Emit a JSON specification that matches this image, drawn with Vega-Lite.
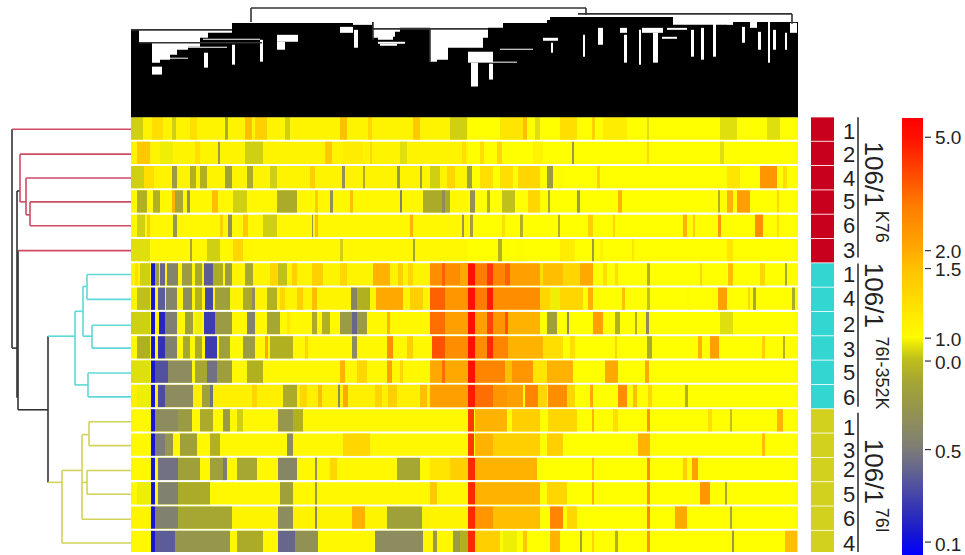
{"$schema":"https://vega.github.io/schema/vega-lite/v6.json","width":965,"height":555,"padding":0,"autosize":{"type":"fit","contains":"padding"},"background":"white","config":{"axis":{"disable":true},"view":{"stroke":null}},
"datasets":{
"heat":[
{"r":0,"a":131,"b":468,"v":52},{"r":1,"a":131,"b":468,"v":52},{"r":2,"a":131,"b":468,"v":52},{"r":3,"a":131,"b":468,"v":51},{"r":4,"a":131,"b":468,"v":51},{"r":5,"a":131,"b":468,"v":51},{"r":6,"a":131,"b":468,"v":52},{"r":7,"a":131,"b":468,"v":52},{"r":8,"a":131,"b":468,"v":51},{"r":9,"a":131,"b":468,"v":51},{"r":10,"a":131,"b":468,"v":51},{"r":11,"a":131,"b":468,"v":53},{"r":12,"a":131,"b":468,"v":51},{"r":13,"a":131,"b":468,"v":51},{"r":14,"a":131,"b":468,"v":51},{"r":15,"a":131,"b":468,"v":51},{"r":16,"a":131,"b":468,"v":52},{"r":17,"a":131,"b":468,"v":51},
{"r":0,"a":468,"b":798,"v":49},{"r":1,"a":468,"b":798,"v":49},{"r":2,"a":468,"b":798,"v":49},{"r":3,"a":468,"b":798,"v":49},{"r":4,"a":468,"b":798,"v":49},{"r":5,"a":468,"b":798,"v":49},{"r":6,"a":468,"b":798,"v":49},{"r":7,"a":468,"b":798,"v":49},{"r":8,"a":468,"b":798,"v":49},{"r":9,"a":468,"b":798,"v":49},{"r":10,"a":468,"b":798,"v":49},{"r":11,"a":468,"b":798,"v":49},{"r":12,"a":468,"b":798,"v":49},{"r":13,"a":468,"b":798,"v":49},{"r":14,"a":468,"b":798,"v":49},{"r":15,"a":468,"b":798,"v":49},{"r":16,"a":468,"b":798,"v":49},{"r":17,"a":468,"b":798,"v":49},
{"r":0,"a":131,"b":143,"v":46},{"r":0,"a":152,"b":163,"v":58},{"r":0,"a":172,"b":176,"v":46},{"r":0,"a":190,"b":197,"v":58},{"r":0,"a":225,"b":228,"v":42},{"r":0,"a":245,"b":252,"v":66},{"r":0,"a":255,"b":267,"v":62},{"r":0,"a":285,"b":290,"v":46},{"r":0,"a":340,"b":347,"v":66},{"r":0,"a":368,"b":372,"v":60},{"r":0,"a":413,"b":420,"v":64},{"r":0,"a":450,"b":467,"v":46},{"r":0,"a":500,"b":523,"v":56},{"r":0,"a":523,"b":527,"v":66},{"r":0,"a":535,"b":540,"v":47},{"r":0,"a":560,"b":577,"v":58},{"r":0,"a":592,"b":595,"v":62},{"r":0,"a":603,"b":627,"v":54},{"r":0,"a":647,"b":649,"v":47},{"r":0,"a":720,"b":737,"v":47},{"r":0,"a":767,"b":780,"v":47},
{"r":1,"a":137,"b":150,"v":64},{"r":1,"a":160,"b":173,"v":48},{"r":1,"a":195,"b":200,"v":58},{"r":1,"a":218,"b":220,"v":36},{"r":1,"a":245,"b":263,"v":46},{"r":1,"a":267,"b":278,"v":52},{"r":1,"a":325,"b":332,"v":64},{"r":1,"a":343,"b":363,"v":54},{"r":1,"a":370,"b":372,"v":60},{"r":1,"a":400,"b":407,"v":47},{"r":1,"a":462,"b":466,"v":58},{"r":1,"a":480,"b":484,"v":58},{"r":1,"a":497,"b":502,"v":60},{"r":1,"a":533,"b":543,"v":52},{"r":1,"a":572,"b":574,"v":36},{"r":1,"a":647,"b":649,"v":60},{"r":1,"a":720,"b":724,"v":47},
{"r":2,"a":131,"b":144,"v":46},{"r":2,"a":144,"b":154,"v":58},{"r":2,"a":172,"b":177,"v":36},{"r":2,"a":190,"b":196,"v":44},{"r":2,"a":200,"b":207,"v":44},{"r":2,"a":225,"b":232,"v":38},{"r":2,"a":247,"b":253,"v":42},{"r":2,"a":270,"b":277,"v":46},{"r":2,"a":310,"b":315,"v":62},{"r":2,"a":342,"b":345,"v":32},{"r":2,"a":363,"b":365,"v":42},{"r":2,"a":397,"b":400,"v":34},{"r":2,"a":420,"b":422,"v":36},{"r":2,"a":430,"b":440,"v":46},{"r":2,"a":447,"b":455,"v":60},{"r":2,"a":467,"b":472,"v":38},{"r":2,"a":480,"b":493,"v":58},{"r":2,"a":500,"b":513,"v":58},{"r":2,"a":518,"b":540,"v":60},{"r":2,"a":547,"b":553,"v":36},{"r":2,"a":558,"b":563,"v":50},{"r":2,"a":597,"b":600,"v":62},{"r":2,"a":727,"b":740,"v":56},{"r":2,"a":760,"b":777,"v":74},{"r":2,"a":783,"b":787,"v":58},
{"r":3,"a":137,"b":147,"v":44},{"r":3,"a":153,"b":160,"v":44},{"r":3,"a":172,"b":175,"v":68},{"r":3,"a":175,"b":183,"v":40},{"r":3,"a":187,"b":190,"v":32},{"r":3,"a":212,"b":218,"v":66},{"r":3,"a":233,"b":247,"v":46},{"r":3,"a":277,"b":297,"v":42},{"r":3,"a":315,"b":318,"v":64},{"r":3,"a":330,"b":333,"v":32},{"r":3,"a":350,"b":353,"v":66},{"r":3,"a":400,"b":402,"v":26},{"r":3,"a":423,"b":450,"v":42},{"r":3,"a":442,"b":445,"v":30},{"r":3,"a":470,"b":475,"v":32},{"r":3,"a":487,"b":490,"v":44},{"r":3,"a":502,"b":515,"v":45},{"r":3,"a":528,"b":540,"v":60},{"r":3,"a":548,"b":550,"v":40},{"r":3,"a":577,"b":580,"v":36},{"r":3,"a":618,"b":622,"v":68},{"r":3,"a":718,"b":720,"v":44},{"r":3,"a":727,"b":733,"v":68},{"r":3,"a":737,"b":750,"v":72},{"r":3,"a":777,"b":779,"v":60},
{"r":4,"a":137,"b":145,"v":46},{"r":4,"a":147,"b":150,"v":62},{"r":4,"a":173,"b":177,"v":34},{"r":4,"a":220,"b":223,"v":62},{"r":4,"a":228,"b":232,"v":32},{"r":4,"a":243,"b":248,"v":64},{"r":4,"a":263,"b":277,"v":46},{"r":4,"a":312,"b":313,"v":34},{"r":4,"a":315,"b":318,"v":66},{"r":4,"a":410,"b":413,"v":68},{"r":4,"a":462,"b":464,"v":34},{"r":4,"a":470,"b":473,"v":38},{"r":4,"a":502,"b":505,"v":58},{"r":4,"a":520,"b":523,"v":44},{"r":4,"a":558,"b":560,"v":44},{"r":4,"a":588,"b":593,"v":62},{"r":4,"a":613,"b":615,"v":60},{"r":4,"a":683,"b":687,"v":68},{"r":4,"a":693,"b":695,"v":62},{"r":4,"a":718,"b":721,"v":74},{"r":4,"a":755,"b":763,"v":76},{"r":4,"a":777,"b":779,"v":58},
{"r":5,"a":131,"b":150,"v":47},{"r":5,"a":190,"b":192,"v":40},{"r":5,"a":207,"b":220,"v":46},{"r":5,"a":233,"b":243,"v":60},{"r":5,"a":340,"b":343,"v":46},{"r":5,"a":413,"b":415,"v":38},{"r":5,"a":498,"b":502,"v":44},{"r":5,"a":515,"b":525,"v":50},{"r":5,"a":560,"b":575,"v":54},{"r":5,"a":592,"b":594,"v":36},{"r":5,"a":600,"b":603,"v":52},{"r":5,"a":632,"b":634,"v":56},{"r":5,"a":727,"b":733,"v":56},
{"r":6,"a":135,"b":138,"v":58},{"r":6,"a":140,"b":150,"v":46},{"r":6,"a":151,"b":155,"v":5},{"r":6,"a":155,"b":159,"v":38},{"r":6,"a":160,"b":165,"v":20},{"r":6,"a":167,"b":178,"v":27},{"r":6,"a":182,"b":192,"v":36},{"r":6,"a":195,"b":202,"v":40},{"r":6,"a":204,"b":213,"v":18},{"r":6,"a":213,"b":223,"v":43},{"r":6,"a":225,"b":232,"v":35},{"r":6,"a":245,"b":253,"v":40},{"r":6,"a":270,"b":278,"v":60},{"r":6,"a":278,"b":287,"v":45},{"r":6,"a":292,"b":297,"v":62},{"r":6,"a":312,"b":323,"v":62},{"r":6,"a":340,"b":347,"v":60},{"r":6,"a":373,"b":390,"v":68},{"r":6,"a":398,"b":403,"v":62},{"r":6,"a":408,"b":413,"v":60},{"r":6,"a":430,"b":468,"v":76},{"r":6,"a":442,"b":445,"v":84},{"r":6,"a":460,"b":468,"v":70},{"r":6,"a":468,"b":475,"v":96},{"r":6,"a":475,"b":487,"v":80},{"r":6,"a":487,"b":493,"v":90},{"r":6,"a":493,"b":505,"v":78},{"r":6,"a":505,"b":510,"v":84},{"r":6,"a":510,"b":540,"v":72},{"r":6,"a":540,"b":543,"v":58},{"r":6,"a":543,"b":563,"v":66},{"r":6,"a":563,"b":580,"v":60},{"r":6,"a":580,"b":593,"v":70},{"r":6,"a":603,"b":607,"v":58},{"r":6,"a":615,"b":618,"v":58},{"r":6,"a":647,"b":650,"v":44},{"r":6,"a":700,"b":702,"v":60},{"r":6,"a":728,"b":733,"v":66},{"r":6,"a":760,"b":765,"v":60},{"r":6,"a":785,"b":787,"v":40},
{"r":7,"a":137,"b":150,"v":45},{"r":7,"a":151,"b":155,"v":5},{"r":7,"a":158,"b":165,"v":18},{"r":7,"a":166,"b":177,"v":27},{"r":7,"a":183,"b":192,"v":30},{"r":7,"a":195,"b":202,"v":44},{"r":7,"a":205,"b":213,"v":14},{"r":7,"a":215,"b":230,"v":38},{"r":7,"a":243,"b":252,"v":42},{"r":7,"a":252,"b":255,"v":30},{"r":7,"a":267,"b":277,"v":44},{"r":7,"a":280,"b":285,"v":60},{"r":7,"a":297,"b":303,"v":62},{"r":7,"a":312,"b":317,"v":66},{"r":7,"a":351,"b":357,"v":28},{"r":7,"a":357,"b":370,"v":44},{"r":7,"a":376,"b":403,"v":70},{"r":7,"a":410,"b":423,"v":62},{"r":7,"a":430,"b":445,"v":84},{"r":7,"a":445,"b":468,"v":74},{"r":7,"a":468,"b":475,"v":96},{"r":7,"a":475,"b":487,"v":80},{"r":7,"a":487,"b":493,"v":94},{"r":7,"a":493,"b":540,"v":76},{"r":7,"a":540,"b":550,"v":60},{"r":7,"a":550,"b":560,"v":48},{"r":7,"a":560,"b":583,"v":60},{"r":7,"a":588,"b":593,"v":68},{"r":7,"a":622,"b":625,"v":66},{"r":7,"a":647,"b":650,"v":45},{"r":7,"a":687,"b":690,"v":50},{"r":7,"a":718,"b":727,"v":72},{"r":7,"a":748,"b":750,"v":60},{"r":7,"a":753,"b":756,"v":40},{"r":7,"a":792,"b":795,"v":42},
{"r":8,"a":131,"b":150,"v":46},{"r":8,"a":151,"b":155,"v":5},{"r":8,"a":159,"b":165,"v":8},{"r":8,"a":165,"b":177,"v":25},{"r":8,"a":185,"b":193,"v":38},{"r":8,"a":195,"b":202,"v":48},{"r":8,"a":204,"b":215,"v":12},{"r":8,"a":215,"b":232,"v":36},{"r":8,"a":247,"b":255,"v":26},{"r":8,"a":267,"b":280,"v":40},{"r":8,"a":287,"b":290,"v":55},{"r":8,"a":312,"b":317,"v":42},{"r":8,"a":322,"b":330,"v":44},{"r":8,"a":340,"b":352,"v":36},{"r":8,"a":352,"b":357,"v":20},{"r":8,"a":357,"b":367,"v":36},{"r":8,"a":387,"b":390,"v":68},{"r":8,"a":430,"b":445,"v":82},{"r":8,"a":445,"b":468,"v":72},{"r":8,"a":468,"b":475,"v":96},{"r":8,"a":475,"b":487,"v":72},{"r":8,"a":487,"b":493,"v":88},{"r":8,"a":493,"b":505,"v":74},{"r":8,"a":505,"b":508,"v":86},{"r":8,"a":508,"b":540,"v":68},{"r":8,"a":547,"b":557,"v":38},{"r":8,"a":567,"b":569,"v":30},{"r":8,"a":593,"b":603,"v":72},{"r":8,"a":615,"b":620,"v":44},{"r":8,"a":635,"b":637,"v":44},{"r":8,"a":646,"b":649,"v":30},{"r":8,"a":720,"b":733,"v":47},
{"r":9,"a":137,"b":150,"v":44},{"r":9,"a":151,"b":155,"v":5},{"r":9,"a":158,"b":165,"v":10},{"r":9,"a":165,"b":177,"v":26},{"r":9,"a":183,"b":190,"v":40},{"r":9,"a":195,"b":202,"v":42},{"r":9,"a":205,"b":217,"v":12},{"r":9,"a":219,"b":230,"v":38},{"r":9,"a":243,"b":255,"v":36},{"r":9,"a":265,"b":268,"v":70},{"r":9,"a":270,"b":293,"v":44},{"r":9,"a":305,"b":308,"v":60},{"r":9,"a":352,"b":357,"v":30},{"r":9,"a":387,"b":393,"v":76},{"r":9,"a":407,"b":413,"v":62},{"r":9,"a":432,"b":445,"v":86},{"r":9,"a":445,"b":468,"v":76},{"r":9,"a":468,"b":475,"v":96},{"r":9,"a":475,"b":487,"v":76},{"r":9,"a":487,"b":493,"v":92},{"r":9,"a":493,"b":508,"v":78},{"r":9,"a":508,"b":543,"v":68},{"r":9,"a":543,"b":563,"v":58},{"r":9,"a":570,"b":575,"v":58},{"r":9,"a":615,"b":617,"v":60},{"r":9,"a":647,"b":652,"v":42},{"r":9,"a":698,"b":702,"v":68},{"r":9,"a":710,"b":719,"v":72},{"r":9,"a":762,"b":765,"v":62},{"r":9,"a":783,"b":785,"v":44},
{"r":10,"a":131,"b":150,"v":47},{"r":10,"a":151,"b":155,"v":5},{"r":10,"a":155,"b":168,"v":16},{"r":10,"a":168,"b":192,"v":30},{"r":10,"a":195,"b":207,"v":40},{"r":10,"a":207,"b":217,"v":22},{"r":10,"a":217,"b":232,"v":37},{"r":10,"a":247,"b":263,"v":44},{"r":10,"a":340,"b":345,"v":68},{"r":10,"a":357,"b":367,"v":60},{"r":10,"a":387,"b":392,"v":72},{"r":10,"a":400,"b":403,"v":60},{"r":10,"a":430,"b":468,"v":70},{"r":10,"a":442,"b":445,"v":82},{"r":10,"a":468,"b":475,"v":96},{"r":10,"a":475,"b":505,"v":78},{"r":10,"a":505,"b":512,"v":66},{"r":10,"a":512,"b":533,"v":74},{"r":10,"a":533,"b":547,"v":56},{"r":10,"a":547,"b":573,"v":68},{"r":10,"a":605,"b":618,"v":70},{"r":10,"a":645,"b":649,"v":70},
{"r":11,"a":137,"b":150,"v":48},{"r":11,"a":151,"b":155,"v":5},{"r":11,"a":158,"b":165,"v":15},{"r":11,"a":165,"b":193,"v":30},{"r":11,"a":202,"b":210,"v":38},{"r":11,"a":210,"b":213,"v":22},{"r":11,"a":252,"b":257,"v":60},{"r":11,"a":283,"b":297,"v":42},{"r":11,"a":300,"b":307,"v":60},{"r":11,"a":318,"b":322,"v":66},{"r":11,"a":338,"b":340,"v":30},{"r":11,"a":343,"b":348,"v":70},{"r":11,"a":375,"b":382,"v":60},{"r":11,"a":388,"b":397,"v":62},{"r":11,"a":420,"b":427,"v":66},{"r":11,"a":430,"b":468,"v":72},{"r":11,"a":468,"b":475,"v":94},{"r":11,"a":475,"b":493,"v":82},{"r":11,"a":493,"b":507,"v":74},{"r":11,"a":507,"b":523,"v":72},{"r":11,"a":525,"b":538,"v":78},{"r":11,"a":538,"b":547,"v":60},{"r":11,"a":548,"b":567,"v":76},{"r":11,"a":567,"b":575,"v":60},{"r":11,"a":590,"b":593,"v":70},{"r":11,"a":618,"b":627,"v":76},{"r":11,"a":633,"b":637,"v":66},{"r":11,"a":648,"b":652,"v":60},{"r":11,"a":685,"b":688,"v":44},
{"r":12,"a":151,"b":155,"v":5},{"r":12,"a":155,"b":178,"v":30},{"r":12,"a":178,"b":192,"v":36},{"r":12,"a":200,"b":213,"v":42},{"r":12,"a":223,"b":230,"v":36},{"r":12,"a":237,"b":243,"v":46},{"r":12,"a":278,"b":293,"v":34},{"r":12,"a":293,"b":303,"v":44},{"r":12,"a":468,"b":474,"v":90},{"r":12,"a":475,"b":507,"v":68},{"r":12,"a":512,"b":540,"v":62},{"r":12,"a":548,"b":577,"v":60},{"r":12,"a":592,"b":594,"v":68},{"r":12,"a":613,"b":618,"v":58},{"r":12,"a":647,"b":650,"v":74},{"r":12,"a":708,"b":712,"v":58},{"r":12,"a":730,"b":732,"v":45},{"r":12,"a":777,"b":783,"v":68},
{"r":13,"a":151,"b":155,"v":5},{"r":13,"a":155,"b":165,"v":24},{"r":13,"a":165,"b":173,"v":34},{"r":13,"a":180,"b":197,"v":38},{"r":13,"a":210,"b":220,"v":44},{"r":13,"a":287,"b":293,"v":30},{"r":13,"a":343,"b":370,"v":60},{"r":13,"a":468,"b":474,"v":90},{"r":13,"a":475,"b":493,"v":68},{"r":13,"a":493,"b":540,"v":62},{"r":13,"a":547,"b":563,"v":62},{"r":13,"a":638,"b":650,"v":68},{"r":13,"a":762,"b":765,"v":66},
{"r":14,"a":151,"b":155,"v":5},{"r":14,"a":158,"b":178,"v":22},{"r":14,"a":178,"b":200,"v":38},{"r":14,"a":210,"b":225,"v":38},{"r":14,"a":223,"b":227,"v":24},{"r":14,"a":237,"b":257,"v":40},{"r":14,"a":278,"b":297,"v":28},{"r":14,"a":315,"b":317,"v":32},{"r":14,"a":330,"b":337,"v":60},{"r":14,"a":397,"b":420,"v":40},{"r":14,"a":430,"b":450,"v":56},{"r":14,"a":450,"b":468,"v":62},{"r":14,"a":468,"b":475,"v":92},{"r":14,"a":475,"b":537,"v":68},{"r":14,"a":592,"b":594,"v":66},{"r":14,"a":647,"b":650,"v":76},{"r":14,"a":683,"b":687,"v":62},{"r":14,"a":692,"b":698,"v":72},
{"r":15,"a":137,"b":150,"v":48},{"r":15,"a":151,"b":155,"v":5},{"r":15,"a":158,"b":178,"v":26},{"r":15,"a":178,"b":210,"v":42},{"r":15,"a":280,"b":293,"v":38},{"r":15,"a":315,"b":317,"v":35},{"r":15,"a":430,"b":437,"v":64},{"r":15,"a":468,"b":475,"v":92},{"r":15,"a":475,"b":540,"v":68},{"r":15,"a":547,"b":567,"v":60},{"r":15,"a":592,"b":594,"v":68},{"r":15,"a":647,"b":650,"v":74},{"r":15,"a":700,"b":710,"v":74},{"r":15,"a":725,"b":727,"v":40},
{"r":16,"a":151,"b":155,"v":5},{"r":16,"a":155,"b":178,"v":26},{"r":16,"a":178,"b":232,"v":40},{"r":16,"a":278,"b":293,"v":30},{"r":16,"a":315,"b":317,"v":28},{"r":16,"a":352,"b":365,"v":68},{"r":16,"a":387,"b":422,"v":38},{"r":16,"a":468,"b":475,"v":92},{"r":16,"a":475,"b":493,"v":74},{"r":16,"a":493,"b":540,"v":66},{"r":16,"a":550,"b":563,"v":78},{"r":16,"a":567,"b":577,"v":60},{"r":16,"a":647,"b":650,"v":78},{"r":16,"a":675,"b":687,"v":70},{"r":16,"a":730,"b":732,"v":40},
{"r":17,"a":151,"b":155,"v":5},{"r":17,"a":155,"b":175,"v":18},{"r":17,"a":175,"b":230,"v":34},{"r":17,"a":237,"b":263,"v":42},{"r":17,"a":278,"b":295,"v":20},{"r":17,"a":295,"b":318,"v":32},{"r":17,"a":375,"b":423,"v":30},{"r":17,"a":433,"b":437,"v":36},{"r":17,"a":453,"b":463,"v":36},{"r":17,"a":460,"b":468,"v":44},{"r":17,"a":468,"b":475,"v":92},{"r":17,"a":475,"b":500,"v":62},{"r":17,"a":503,"b":517,"v":48},{"r":17,"a":523,"b":527,"v":64},{"r":17,"a":550,"b":560,"v":68},{"r":17,"a":580,"b":582,"v":38},{"r":17,"a":592,"b":594,"v":60},{"r":17,"a":615,"b":618,"v":44},{"r":17,"a":647,"b":650,"v":74},{"r":17,"a":732,"b":734,"v":35},{"r":17,"a":785,"b":797,"v":66}
],
"top":[{"x":131,"y":30},{"x":139,"y":43},{"x":152,"y":63},{"x":160,"y":60},{"x":170,"y":55},{"x":177,"y":50},{"x":188,"y":47},{"x":200,"y":38},{"x":208,"y":33},{"x":232,"y":23},{"x":353,"y":22},{"x":373,"y":38},{"x":378,"y":40},{"x":393,"y":37},{"x":395,"y":32},{"x":400,"y":28},{"x":430,"y":62},{"x":437,"y":60},{"x":448,"y":48},{"x":483,"y":38},{"x":488,"y":28},{"x":503,"y":23},{"x":547,"y":20},{"x":550,"y":17},{"x":673,"y":25},{"x":727,"y":22},{"x":798,"y":22}],
"holes":[{"a":152,"b":162,"t":67,"u":75},{"a":168,"b":188,"t":58,"u":59},{"a":188,"b":227,"t":47,"u":48},{"a":204,"b":208,"t":53,"u":68},{"a":203,"b":260,"t":39,"u":40},{"a":232,"b":235,"t":45,"u":65},{"a":260,"b":263,"t":40,"u":62},{"a":277,"b":298,"t":35,"u":42},{"a":277,"b":285,"t":42,"u":50},{"a":340,"b":353,"t":27,"u":33},{"a":354,"b":358,"t":30,"u":48},{"a":353,"b":372,"t":22,"u":25},{"a":378,"b":405,"t":42,"u":44},{"a":380,"b":397,"t":44,"u":46},{"a":468,"b":493,"t":52,"u":63},{"a":471,"b":478,"t":63,"u":87},{"a":489,"b":493,"t":64,"u":80},{"a":493,"b":517,"t":62,"u":63},{"a":500,"b":533,"t":49,"u":50},{"a":543,"b":558,"t":38,"u":41},{"a":551,"b":553,"t":43,"u":53},{"a":583,"b":585,"t":35,"u":57},{"a":598,"b":603,"t":28,"u":45},{"a":620,"b":627,"t":28,"u":33},{"a":624,"b":627,"t":35,"u":63},{"a":639,"b":641,"t":30,"u":65},{"a":642,"b":663,"t":28,"u":33},{"a":653,"b":658,"t":33,"u":63},{"a":662,"b":677,"t":37,"u":39},{"a":667,"b":687,"t":28,"u":30},{"a":691,"b":694,"t":30,"u":57},{"a":701,"b":704,"t":28,"u":60},{"a":713,"b":716,"t":23,"u":57},{"a":727,"b":733,"t":20,"u":25},{"a":742,"b":745,"t":27,"u":43},{"a":750,"b":757,"t":22,"u":28},{"a":758,"b":761,"t":32,"u":50},{"a":768,"b":770,"t":22,"u":63},{"a":773,"b":776,"t":30,"u":50},{"a":785,"b":787,"t":33,"u":50},{"a":790,"b":797,"t":23,"u":33}],
"links":[{"x":251,"x2":586,"y":8,"y2":8,"k":"d0"},{"x":251,"x2":251,"y":8,"y2":22,"k":"d0"},{"x":586,"x2":586,"y":8,"y2":15,"k":"d0"},{"x":578,"x2":792,"y":14,"y2":14,"k":"d0"},{"x":792,"x2":792,"y":14,"y2":24,"k":"d0"},{"x":131,"x2":232,"y":30,"y2":30,"k":"d0"},{"x":139,"x2":262,"y":43,"y2":43,"k":"d0"},{"x":373,"x2":488,"y":29,"y2":29,"k":"d0"},{"x":373,"x2":373,"y":22,"y2":40,"k":"d0"},{"x":430,"x2":430,"y":29,"y2":62,"k":"d0"},
{"x":12,"x2":12,"y":130,"y2":350,"k":"d0"},{"x":12,"x2":17,"y":350,"y2":350,"k":"d0"},{"x":17,"x2":17,"y":192,"y2":400,"k":"d0"},{"x":17,"x2":20,"y":192,"y2":192,"k":"d0"},{"x":18,"x2":18,"y":252,"y2":412,"k":"d0"},{"x":18,"x2":48,"y":412,"y2":412,"k":"d0"},{"x":48,"x2":48,"y":338,"y2":485,"k":"d0"},
{"x":12,"x2":131,"y":130,"y2":130,"k":"d1"},{"x":20,"x2":131,"y":155,"y2":155,"k":"d1"},{"x":20,"x2":20,"y":155,"y2":203,"k":"d1"},{"x":20,"x2":26,"y":203,"y2":203,"k":"d1"},{"x":26,"x2":26,"y":179,"y2":216,"k":"d1"},{"x":26,"x2":131,"y":179,"y2":179,"k":"d1"},{"x":26,"x2":30,"y":216,"y2":216,"k":"d1"},{"x":30,"x2":30,"y":203,"y2":227,"k":"d1"},{"x":30,"x2":131,"y":203,"y2":203,"k":"d1"},{"x":30,"x2":131,"y":227,"y2":227,"k":"d1"},{"x":18,"x2":131,"y":252,"y2":252,"k":"d1"},
{"x":48,"x2":75,"y":338,"y2":338,"k":"d2"},{"x":75,"x2":75,"y":313,"y2":387,"k":"d2"},{"x":75,"x2":83,"y":313,"y2":313,"k":"d2"},{"x":75,"x2":88,"y":387,"y2":387,"k":"d2"},{"x":83,"x2":83,"y":288,"y2":338,"k":"d2"},{"x":83,"x2":87,"y":288,"y2":288,"k":"d2"},{"x":87,"x2":87,"y":276,"y2":301,"k":"d2"},{"x":87,"x2":131,"y":276,"y2":276,"k":"d2"},{"x":87,"x2":131,"y":301,"y2":301,"k":"d2"},{"x":83,"x2":92,"y":338,"y2":338,"k":"d2"},{"x":92,"x2":92,"y":327,"y2":350,"k":"d2"},{"x":92,"x2":131,"y":327,"y2":327,"k":"d2"},{"x":92,"x2":131,"y":350,"y2":350,"k":"d2"},{"x":88,"x2":88,"y":375,"y2":399,"k":"d2"},{"x":88,"x2":131,"y":375,"y2":375,"k":"d2"},{"x":88,"x2":131,"y":399,"y2":399,"k":"d2"},
{"x":48,"x2":62,"y":485,"y2":485,"k":"d3"},{"x":62,"x2":62,"y":473,"y2":546,"k":"d3"},{"x":62,"x2":82,"y":473,"y2":473,"k":"d3"},{"x":62,"x2":131,"y":546,"y2":546,"k":"d3"},{"x":82,"x2":82,"y":437,"y2":522,"k":"d3"},{"x":82,"x2":131,"y":522,"y2":522,"k":"d3"},{"x":82,"x2":89,"y":437,"y2":437,"k":"d3"},{"x":89,"x2":89,"y":424,"y2":448,"k":"d3"},{"x":89,"x2":131,"y":424,"y2":424,"k":"d3"},{"x":89,"x2":131,"y":448,"y2":448,"k":"d3"},{"x":82,"x2":87,"y":485,"y2":485,"k":"d3"},{"x":87,"x2":87,"y":473,"y2":497,"k":"d3"},{"x":87,"x2":131,"y":473,"y2":473,"k":"d3"},{"x":87,"x2":131,"y":497,"y2":497,"k":"d3"},
{"x":858,"x2":858,"y":118,"y2":259,"k":"d0"},{"x":858,"x2":858,"y":265,"y2":409,"k":"d0"},{"x":858,"x2":858,"y":415,"y2":555,"k":"d0"}],
"ann":[{"r":0,"k":"K76"},{"r":1,"k":"K76"},{"r":2,"k":"K76"},{"r":3,"k":"K76"},{"r":4,"k":"K76"},{"r":5,"k":"K76"},{"r":6,"k":"76I-352K"},{"r":7,"k":"76I-352K"},{"r":8,"k":"76I-352K"},{"r":9,"k":"76I-352K"},{"r":10,"k":"76I-352K"},{"r":11,"k":"76I-352K"},{"r":12,"k":"76I"},{"r":13,"k":"76I"},{"r":14,"k":"76I"},{"r":15,"k":"76I"},{"r":16,"k":"76I"},{"r":17,"k":"76I"}],
"nums":[{"y":133,"t":"1"},{"y":156,"t":"2"},{"y":180,"t":"4"},{"y":203,"t":"5"},{"y":227,"t":"6"},{"y":252,"t":"3"},{"y":276,"t":"1"},{"y":301,"t":"4"},{"y":327,"t":"2"},{"y":352,"t":"3"},{"y":375,"t":"5"},{"y":400,"t":"6"},{"y":430,"t":"1"},{"y":453,"t":"3"},{"y":473,"t":"2"},{"y":498,"t":"5"},{"y":522,"t":"6"},{"y":547,"t":"4"}],
"ticks":[{"y":138},{"y":252},{"y":270},{"y":340},{"y":363},{"y":452},{"y":545}]
},
"layer":[
{"data":{"name":"heat"},"transform":[{"calculate":"118+24.45*datum.r","as":"y1"},{"calculate":"datum.y1+22.4","as":"y2"}],"mark":{"type":"rect","clip":true,"strokeWidth":0},"encoding":{"x":{"field":"a","type":"quantitative","scale":{"domain":[0,965],"nice":false,"zero":false}},"x2":{"field":"b"},"y":{"field":"y1","type":"quantitative","scale":{"domain":[0,555],"reverse":true,"nice":false,"zero":false}},"y2":{"field":"y2"},"fill":{"field":"v","type":"quantitative","scale":{"interpolate":"rgb","domain":[0,6,18,24,44,49,65,69,80,95,100],"range":["#0000ff","#1c1cc8","#5c5c98","#7c7c78","#b0b020","#ffff00","#ffc400","#ffac00","#ff7c00","#ff1400","#ff0000"]},"legend":{"orient":"none","legendX":902,"legendY":118,"title":null,"direction":"vertical","gradientLength":437,"gradientThickness":21,"gradientStrokeWidth":0,"values":[2.3,23.6,43.9,49.2,65.2,69.3,95.4],"labelExpr":"datum.value==2.3?'0.1':datum.value==23.6?'0.5':datum.value==43.9?'0.0':datum.value==49.2?'1.0':datum.value==65.2?'1.5':datum.value==69.3?'2.0':'5.0'","labelOverlap":false,"labelFont":"Liberation Sans","labelFontSize":19,"labelColor":"#222222","labelOffset":12}}}},
{"data":{"name":"top"},"mark":{"type":"area","interpolate":"step-after","color":"black"},"encoding":{"x":{"field":"x","type":"quantitative"},"y":{"field":"y","type":"quantitative"},"y2":{"datum":118}}},
{"data":{"name":"holes"},"mark":{"type":"rect","color":"white","strokeWidth":0},"encoding":{"x":{"field":"a","type":"quantitative"},"x2":{"field":"b"},"y":{"field":"t","type":"quantitative"},"y2":{"field":"u"}}},
{"data":{"name":"links"},"mark":{"type":"rule","strokeWidth":1.6},"encoding":{"x":{"field":"x","type":"quantitative"},"x2":{"field":"x2"},"y":{"field":"y","type":"quantitative"},"y2":{"field":"y2"},"color":{"field":"k","type":"nominal","legend":null,"scale":{"domain":["d0","d1","d2","d3","K76","76I-352K","76I"],"range":["#333333","#cf4a63","#5fd8d8","#d2d25a","#c8001e","#33d6d0","#d2d21e"]}}}},
{"data":{"name":"ann"},"transform":[{"calculate":"118+24.45*datum.r","as":"y1"},{"calculate":"datum.y1+23.6","as":"y2"}],"mark":{"type":"rect","clip":true,"strokeWidth":0},"encoding":{"x":{"datum":811,"type":"quantitative"},"x2":{"datum":834},"y":{"field":"y1","type":"quantitative"},"y2":{"field":"y2"},"color":{"field":"k","type":"nominal","legend":null}}},
{"data":{"name":"nums"},"mark":{"type":"text","font":"Liberation Sans","fontSize":22,"color":"#222222","align":"center","baseline":"middle"},"encoding":{"x":{"datum":849,"type":"quantitative"},"y":{"field":"y","type":"quantitative"},"text":{"field":"t"}}},
{"data":{"values":[{"y":175,"t":"106/1"},{"y":297,"t":"106/1"},{"y":474,"t":"106/1"}]},"mark":{"type":"text","font":"Liberation Sans","fontSize":26,"color":"#222222","angle":90,"align":"center","baseline":"middle"},"encoding":{"x":{"datum":873,"type":"quantitative"},"y":{"field":"y","type":"quantitative"},"text":{"field":"t"}}},
{"data":{"values":[{"y":228,"t":"K76"},{"y":375,"t":"76I-352K"},{"y":523,"t":"76I"}]},"mark":{"type":"text","font":"Liberation Sans","fontSize":18,"color":"#222222","angle":90,"align":"center","baseline":"middle"},"encoding":{"x":{"datum":881,"type":"quantitative"},"y":{"field":"y","type":"quantitative"},"text":{"field":"t"}}},
{"data":{"name":"ticks"},"mark":{"type":"rule","color":"#333333","strokeWidth":1.2},"encoding":{"x":{"datum":925,"type":"quantitative"},"x2":{"datum":931},"y":{"field":"y","type":"quantitative"}}}
]}
